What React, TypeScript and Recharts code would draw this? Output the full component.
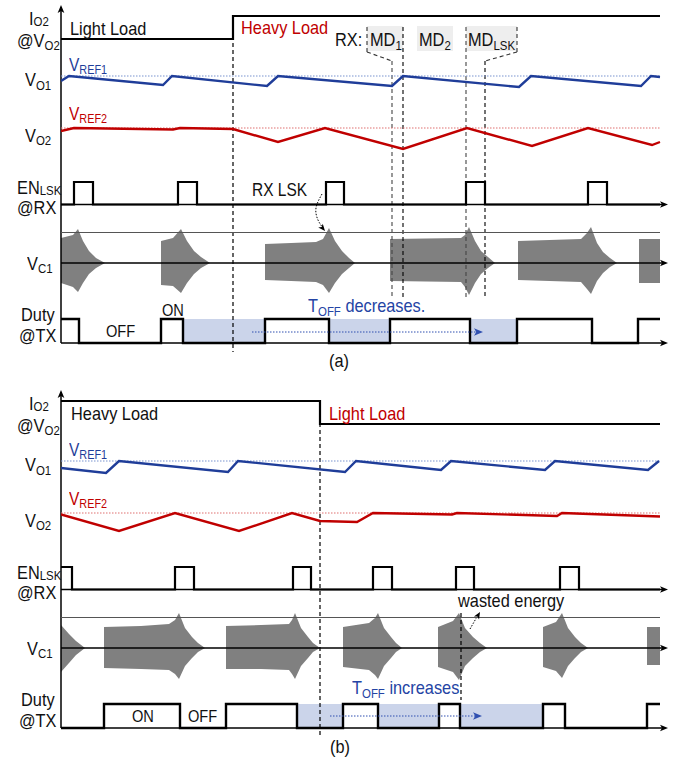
import React from "react";
import {
  ComposedChart,
  Line,
  Area,
  XAxis,
  YAxis,
  ReferenceLine,
  ReferenceArea,
  ReferenceDot,
} from "recharts";

// time runs 0..599 (arbitrary units), axes arrows reach 607
const T_END = 599;
const T_AXIS = 607;

// ---- panel (a): light load -> heavy load ----
const ioA = [
  { t: 0, v: 0 },
  { t: 172, v: 1 },
  { t: 599, v: 1 },
];
const vo1A = [
  { t: 0, v: -5 }, { t: 8, v: 0 }, { t: 102, v: -9 }, { t: 111, v: 0 },
  { t: 206, v: -10 }, { t: 217, v: 0 }, { t: 331, v: -10 }, { t: 342, v: 0 },
  { t: 458, v: -11 }, { t: 470, v: 0 }, { t: 580, v: -10 }, { t: 590, v: 0 },
  { t: 599, v: -1 },
];
const vo2A = [
  { t: 0, v: -3 }, { t: 13, v: 0 }, { t: 112, v: -1.5 }, { t: 119, v: 0 },
  { t: 172, v: -1 }, { t: 217, v: -14 }, { t: 264, v: 0 }, { t: 342, v: -21 },
  { t: 406, v: 0 }, { t: 471, v: -18 }, { t: 527, v: 0 }, { t: 591, v: -17 },
  { t: 599, v: -14 },
];
const enA = [
  { t: 0, v: 0 }, { t: 13, v: 1 }, { t: 32, v: 0 }, { t: 117, v: 1 }, { t: 136, v: 0 },
  { t: 265, v: 1 }, { t: 283, v: 0 }, { t: 405, v: 1 }, { t: 424, v: 0 },
  { t: 527, v: 1 }, { t: 546, v: 0 }, { t: 599, v: 0 },
];
const dutyA = [
  { t: 0, v: 1 }, { t: 18, v: 0 }, { t: 100, v: 1 }, { t: 122, v: 0 },
  { t: 204, v: 1 }, { t: 268, v: 0 }, { t: 329, v: 1 }, { t: 409, v: 0 },
  { t: 456, v: 1 }, { t: 531, v: 0 }, { t: 577, v: 1 }, { t: 599, v: 1 },
];
const offA = [[122, 204], [268, 329], [409, 456]];
const burstsA = [
  [{ t: 0, up: 25, dn: 20 }, { t: 12, up: 28, dn: 24 }, { t: 17, up: 34, dn: 29 }, { t: 22, up: 22, dn: 20 },
   { t: 28, up: 12, dn: 11 }, { t: 35, up: 5, dn: 5 }, { t: 44, up: 0, dn: 0 }],
  [{ t: 100, up: 22, dn: 22 }, { t: 112, up: 25, dn: 23 }, { t: 120, up: 34, dn: 30 }, { t: 126, up: 22, dn: 20 },
   { t: 133, up: 12, dn: 11 }, { t: 140, up: 6, dn: 5 }, { t: 149, up: 0, dn: 0 }],
  [{ t: 204, up: 19, dn: 17 }, { t: 230, up: 20, dn: 18 }, { t: 255, up: 21, dn: 19 }, { t: 262, up: 24, dn: 22 },
   { t: 268, up: 35, dn: 30 }, { t: 274, up: 22, dn: 20 }, { t: 281, up: 12, dn: 11 }, { t: 288, up: 5, dn: 5 },
   { t: 294, up: 0, dn: 0 }],
  [{ t: 329, up: 24, dn: 18 }, { t: 400, up: 25, dn: 19 }, { t: 404, up: 28, dn: 24 }, { t: 408, up: 36, dn: 32 },
   { t: 414, up: 22, dn: 20 }, { t: 420, up: 12, dn: 11 }, { t: 427, up: 6, dn: 5 }, { t: 434, up: 0, dn: 0 }],
  [{ t: 457, up: 22, dn: 17 }, { t: 520, up: 24, dn: 19 }, { t: 526, up: 30, dn: 26 }, { t: 530, up: 36, dn: 31 },
   { t: 536, up: 20, dn: 18 }, { t: 542, up: 11, dn: 10 }, { t: 549, up: 5, dn: 4 }, { t: 556, up: 0, dn: 0 }],
  [{ t: 578, up: 24, dn: 20 }, { t: 599, up: 24, dn: 20 }],
];

// ---- panel (b): heavy load -> light load ----
const ioB = [
  { t: 0, v: 1 },
  { t: 259, v: 0 },
  { t: 599, v: 0 },
];
const vo1B = [
  { t: 0, v: -7 }, { t: 45, v: -12 }, { t: 58, v: 0 }, { t: 167, v: -11 }, { t: 177, v: 0 },
  { t: 284, v: -11 }, { t: 295, v: 0 }, { t: 380, v: -9 }, { t: 390, v: 0 },
  { t: 484, v: -9 }, { t: 494, v: 0 }, { t: 587, v: -9 }, { t: 598, v: 0 },
];
const vo2B = [
  { t: 0, v: -1.5 }, { t: 58, v: -18 }, { t: 114, v: 0 }, { t: 178, v: -18 }, { t: 231, v: 0 },
  { t: 259, v: -8 }, { t: 296, v: -9 }, { t: 312, v: 0 }, { t: 391, v: -1.5 }, { t: 396, v: 0 },
  { t: 496, v: -3 }, { t: 501, v: 0 }, { t: 599, v: -3.5 },
];
const enB = [
  { t: 0, v: 1 }, { t: 11, v: 0 }, { t: 114, v: 1 }, { t: 133, v: 0 }, { t: 232, v: 1 }, { t: 250, v: 0 },
  { t: 312, v: 1 }, { t: 331, v: 0 }, { t: 395, v: 1 }, { t: 413, v: 0 },
  { t: 499, v: 1 }, { t: 518, v: 0 }, { t: 599, v: 0 },
];
const dutyB = [
  { t: 0, v: 0 }, { t: 43, v: 1 }, { t: 119, v: 0 }, { t: 165, v: 1 }, { t: 236, v: 0 },
  { t: 282, v: 1 }, { t: 317, v: 0 }, { t: 378, v: 1 }, { t: 399, v: 0 },
  { t: 482, v: 1 }, { t: 504, v: 0 }, { t: 586, v: 1 }, { t: 599, v: 1 },
];
const offB = [[236, 282], [317, 378], [399, 482]];
const burstsB = [
  [{ t: 0, up: 23, dn: 24 }, { t: 8, up: 14, dn: 15 }, { t: 15, up: 7, dn: 7 }, { t: 24, up: 0, dn: 0 }],
  [{ t: 43, up: 21, dn: 20 }, { t: 80, up: 22, dn: 21 }, { t: 108, up: 24, dn: 22 }, { t: 114, up: 28, dn: 26 },
   { t: 118, up: 35, dn: 31 }, { t: 124, up: 20, dn: 18 }, { t: 131, up: 11, dn: 10 }, { t: 137, up: 5, dn: 4 },
   { t: 144, up: 0, dn: 0 }],
  [{ t: 165, up: 22, dn: 21 }, { t: 200, up: 23, dn: 21 }, { t: 228, up: 24, dn: 22 }, { t: 231, up: 28, dn: 26 },
   { t: 234, up: 35, dn: 31 }, { t: 240, up: 20, dn: 18 }, { t: 247, up: 11, dn: 10 }, { t: 252, up: 5, dn: 4 },
   { t: 259, up: 0, dn: 0 }],
  [{ t: 282, up: 21, dn: 19 }, { t: 308, up: 25, dn: 22 }, { t: 314, up: 30, dn: 27 }, { t: 317, up: 35, dn: 31 },
   { t: 323, up: 20, dn: 18 }, { t: 330, up: 11, dn: 10 }, { t: 335, up: 5, dn: 4 }, { t: 341, up: 0, dn: 0 }],
  [{ t: 377, up: 21, dn: 19 }, { t: 392, up: 27, dn: 24 }, { t: 398, up: 35, dn: 32 }, { t: 404, up: 20, dn: 18 },
   { t: 412, up: 11, dn: 10 }, { t: 419, up: 5, dn: 4 }, { t: 426, up: 0, dn: 0 }],
  [{ t: 482, up: 21, dn: 19 }, { t: 495, up: 26, dn: 23 }, { t: 501, up: 35, dn: 30 }, { t: 507, up: 20, dn: 18 },
   { t: 514, up: 11, dn: 10 }, { t: 520, up: 5, dn: 4 }, { t: 527, up: 0, dn: 0 }],
  [{ t: 586, up: 21, dn: 17 }, { t: 599, up: 21, dn: 17 }],
];

// vertical placement of each trace inside a panel
const IO = { lo: 39, hi: 16 };
const VO1_REF = 76;
const VO2_REF = 128;
const EN = { lo: 204.5, hi: 182 };
const VC1 = { top: 232.5, mid: 263 };
const DUTY = { lo: 343, hi: 319 };

const BLUE = "#1f3d99";
const RED = "#c00000";
const TXT_BLUE = "#2444a4";
const FONT = '"Liberation Sans", Arial, sans-serif';

const digital = (pts: { t: number; v: number }[], lv: { lo: number; hi: number }) =>
  pts.map((p) => ({ t: p.t, y: lv.lo + (lv.hi - lv.lo) * p.v }));
const analog = (pts: { t: number; v: number }[], ref: number) =>
  pts.map((p) => ({ t: p.t, y: ref - p.v }));

function envelope(bursts: { t: number; up: number; dn: number }[][]) {
  const out: { t: number; r: [number, number] }[] = [];
  bursts.forEach((b) => {
    if (b[0].up > 0 && b[0].t > 0) out.push({ t: b[0].t, r: [VC1.mid, VC1.mid] });
    b.forEach((p) => out.push({ t: p.t, r: [VC1.mid - p.up, VC1.mid + p.dn] }));
    const last = b[b.length - 1];
    if (last.up > 0) out.push({ t: last.t, r: [VC1.mid, VC1.mid] });
  });
  return out;
}

function head(angle: number, color = "#000", size = 8) {
  // eslint-disable-next-line @typescript-eslint/no-explicit-any
  return (p: any) => (
    <polygon
      points={`0,0 ${-size},${-size * 0.42} ${-size * 0.75},0 ${-size},${size * 0.42}`}
      transform={`translate(${p.cx},${p.cy}) rotate(${angle})`}
      fill={color}
    />
  );
}

function seg(key: string, x1: number, y1: number, x2: number, y2: number, stroke = "#000", w = 1.2, dash?: string) {
  return (
    <ReferenceLine
      key={key}
      segment={[{ x: x1, y: y1 }, { x: x2, y: y2 }]}
      stroke={stroke}
      strokeWidth={w}
      strokeDasharray={dash}
      ifOverflow="visible"
    />
  );
}

function Txt({ x, y, size = 19, color = "#111", children }: { x: number; y: number; size?: number; color?: string; children: React.ReactNode }) {
  return (
    <div
      style={{
        position: "absolute",
        left: x,
        top: y - 0.85 * size,
        fontSize: size,
        lineHeight: `${size}px`,
        color,
        fontFamily: FONT,
        whiteSpace: "nowrap",
        transform: "scaleX(0.86)",
        transformOrigin: "0 0",
      }}
    >
      {children}
    </div>
  );
}

const Sub = ({ children, dy = 0.3 }: { children: React.ReactNode; dy?: number }) => (
  <span style={{ fontSize: "0.7em", position: "relative", top: `${dy}em` }}>{children}</span>
);

interface PanelProps {
  top: number;
  io: { t: number; v: number }[];
  vo1: { t: number; v: number }[];
  vo2: { t: number; v: number }[];
  en: { t: number; v: number }[];
  duty: { t: number; v: number }[];
  off: number[][];
  bursts: { t: number; up: number; dn: number }[][];
  arrow: number[];
  extras: React.ReactNode[];
  labels: React.ReactNode;
}

function Panel({ top, io, vo1, vo2, en, duty, off, bursts, arrow, extras, labels }: PanelProps) {
  return (
    <div style={{ position: "absolute", left: 0, top, width: 688, height: 380 }}>
      <ComposedChart
        width={688}
        height={380}
        data={envelope(bursts)}
        margin={{ top: 0, right: 18, bottom: 0, left: 61 }}
      >
        <XAxis type="number" dataKey="t" domain={[0, 609]} allowDataOverflow hide />
        <YAxis type="number" domain={[0, 380]} reversed allowDataOverflow hide />

        {off.map(([a, b], i) => (
          <ReferenceArea key={"off" + i} x1={a} x2={b} y1={DUTY.hi} y2={DUTY.lo} fill="#cbd4ea" fillOpacity={1} stroke="none" ifOverflow="visible" />
        ))}
        {extras}

        {seg("yaxis", 0, 7, 0, DUTY.lo, "#000", 1.5)}
        <ReferenceDot x={0} y={5} r={0} ifOverflow="visible" shape={head(-90)} />
        {seg("vref1", 0, VO1_REF, T_END, VO1_REF, "#7a93d0", 1.2, "1.5 1.5")}
        {seg("vref2", 0, VO2_REF, T_END, VO2_REF, "#e07070", 1.2, "1.5 1.5")}
        {seg("enAx", 0, EN.lo, T_AXIS - 4, EN.lo, "#000", 1.5)}
        <ReferenceDot x={T_AXIS} y={EN.lo} r={0} ifOverflow="visible" shape={head(0)} />
        {seg("vcTop", 0, VC1.top, T_END, VC1.top, "#555", 1)}
        {seg("vcAx", 0, VC1.mid, T_AXIS - 4, VC1.mid, "#000", 1.5)}
        <ReferenceDot x={T_AXIS} y={VC1.mid} r={0} ifOverflow="visible" shape={head(0)} />
        {seg("dutyAx", 0, DUTY.lo, T_AXIS - 4, DUTY.lo, "#000", 1.5)}
        <ReferenceDot x={T_AXIS} y={DUTY.lo} r={0} ifOverflow="visible" shape={head(0)} />

        <Area type="linear" dataKey="r" stroke="none" fill="#808080" fillOpacity={1} isAnimationActive={false} />

        <Line data={digital(io, IO)} dataKey="y" type="stepAfter" stroke="#000" strokeWidth={2.2} dot={false} isAnimationActive={false} />
        <Line data={analog(vo1, VO1_REF)} dataKey="y" type="linear" stroke={BLUE} strokeWidth={2.4} dot={false} isAnimationActive={false} />
        <Line data={analog(vo2, VO2_REF)} dataKey="y" type="linear" stroke={RED} strokeWidth={2.4} dot={false} isAnimationActive={false} />
        <Line data={digital(en, EN)} dataKey="y" type="stepAfter" stroke="#000" strokeWidth={2.2} dot={false} isAnimationActive={false} />
        <Line data={digital(duty, DUTY)} dataKey="y" type="stepAfter" stroke="#000" strokeWidth={2.4} dot={false} isAnimationActive={false} />

        {seg("toffArrow", arrow[0], arrow[2], arrow[1] - 4, arrow[2], "#2f4fb0", 1, "1.5 1.5")}
        <ReferenceDot x={arrow[1]} y={arrow[2]} r={0} ifOverflow="visible" shape={head(0, "#2f4fb0", 9)} />
      </ComposedChart>

      <Txt x={29} y={25}>I<Sub dy={0.12}>O2</Sub></Txt>
      <Txt x={17} y={47}>@V<Sub dy={0.2}>O2</Sub></Txt>
      <Txt x={69} y={71} size={18} color={BLUE}>V<Sub dy={0.25}>REF1</Sub></Txt>
      <Txt x={25} y={86}>V<Sub>O1</Sub></Txt>
      <Txt x={69} y={120} size={18} color={RED}>V<Sub dy={0.25}>REF2</Sub></Txt>
      <Txt x={25} y={142}>V<Sub dy={0.25}>O2</Sub></Txt>
      <Txt x={17} y={194}>EN<Sub dy={0.1}>LSK</Sub></Txt>
      <Txt x={17} y={214}>@RX</Txt>
      <Txt x={27} y={270}>V<Sub dy={0.25}>C1</Sub></Txt>
      <Txt x={21} y={321}>Duty</Txt>
      <Txt x={19} y={342}>@TX</Txt>
      {labels}
    </div>
  );
}

const DASH = "4 3";

const extrasA = [
  seg("mainA", 172, 15, 172, 352, "#000", 1.2, DASH),
  <ReferenceArea key="md1" x1={306} x2={342} y1={26} y2={51} fill="#eeeeee" fillOpacity={1} stroke="none" ifOverflow="visible" />,
  <ReferenceArea key="md2" x1={356} x2={392} y1={26} y2={51} fill="#eeeeee" fillOpacity={1} stroke="none" ifOverflow="visible" />,
  <ReferenceArea key="mdl" x1={405} x2={456} y1={26} y2={51} fill="#eeeeee" fillOpacity={1} stroke="none" ifOverflow="visible" />,
  seg("md1a", 306, 27, 306, 52, "#333", 1.1, DASH),
  seg("md1b", 306, 52, 331, 61, "#333", 1.1, DASH),
  seg("md1c", 331, 61, 331, 297, "#444", 1.1, DASH),
  seg("md1d", 342, 27, 342, 297, "#000", 1.1, DASH),
  seg("mdla", 405, 27, 405, 297, "#444", 1.1, DASH),
  seg("mdlb", 456, 27, 456, 52, "#333", 1.1, DASH),
  seg("mdlc", 456, 52, 424, 61, "#333", 1.1, DASH),
  seg("mdld", 424, 61, 424, 297, "#000", 1.1, DASH),
  <Line
    key="lskArrow"
    data={[{ t: 261, y: 194 }, { t: 255, y: 208 }, { t: 257, y: 220 }, { t: 262, y: 228 }]}
    dataKey="y"
    type="natural"
    stroke="#000"
    strokeWidth={1}
    strokeDasharray="1.5 1.5"
    dot={false}
    isAnimationActive={false}
  />,
  <ReferenceDot key="lskHead" x={264} y={231} r={0} ifOverflow="visible" shape={head(50, "#000", 7)} />,
];

const extrasB = [
  seg("mainB", 259, 17, 259, 352, "#000", 1.2, DASH),
  seg("waste", 400, 228, 400, 315, "#000", 1.2, DASH),
  seg("wasteArrow", 409, 244, 417, 230, "#000", 1, "1.5 1.5"),
  <ReferenceDot key="wasteHead" x={419} y={227} r={0} ifOverflow="visible" shape={head(-60, "#000", 7)} />,
];

const labelsA = (
  <>
    <Txt x={70} y={35}>Light Load</Txt>
    <Txt x={241} y={34} color={RED}>Heavy Load</Txt>
    <Txt x={335} y={46}>RX:</Txt>
    <Txt x={370} y={46}>MD<Sub>1</Sub></Txt>
    <Txt x={419} y={46}>MD<Sub>2</Sub></Txt>
    <Txt x={468} y={46}>MD<Sub>LSK</Sub></Txt>
    <Txt x={252} y={196} size={18}>RX LSK</Txt>
    <Txt x={162} y={316} size={17}>ON</Txt>
    <Txt x={106} y={337} size={17}>OFF</Txt>
    <Txt x={308} y={312} color={TXT_BLUE}>T<Sub>OFF</Sub> decreases.</Txt>
    <Txt x={329} y={367}>(a)</Txt>
  </>
);

const labelsB = (
  <>
    <Txt x={71} y={35}>Heavy Load</Txt>
    <Txt x={329} y={35} color={RED}>Light Load</Txt>
    <Txt x={458} y={222}>wasted energy</Txt>
    <Txt x={352} y={309} color={TXT_BLUE}>T<Sub>OFF</Sub> increases</Txt>
    <Txt x={132} y={337} size={17}>ON</Txt>
    <Txt x={188} y={337} size={17}>OFF</Txt>
    <Txt x={330} y={368}>(b)</Txt>
  </>
);

export default function App() {
  return (
    <div style={{ position: "absolute", left: 0, top: 0, width: 688, height: 764, background: "#fff" }}>
      <Panel
        top={0}
        io={ioA}
        vo1={vo1A}
        vo2={vo2A}
        en={enA}
        duty={dutyA}
        off={offA}
        bursts={burstsA}
        arrow={[191, 422, 332]}
        extras={extrasA}
        labels={labelsA}
      />
      <Panel
        top={385}
        io={ioB}
        vo1={vo1B}
        vo2={vo2B}
        en={enB}
        duty={dutyB}
        off={offB}
        bursts={burstsB}
        arrow={[269, 421, 331]}
        extras={extrasB}
        labels={labelsB}
      />
    </div>
  );
}
